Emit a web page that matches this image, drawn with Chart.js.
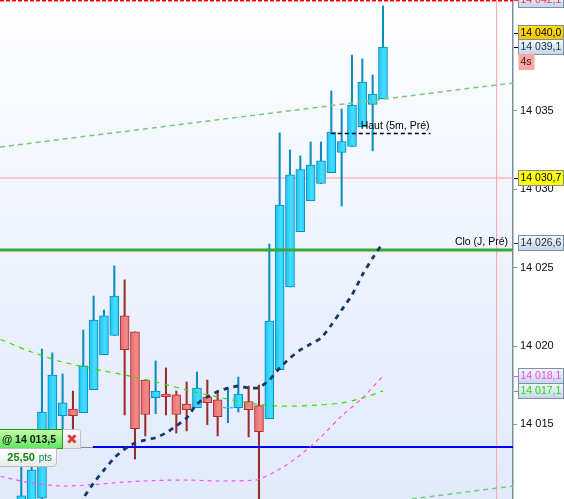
<!DOCTYPE html>
<html>
<head>
<meta charset="utf-8">
<title>Chart</title>
<script src="https://cdn.jsdelivr.net/npm/chart.js@4"></script>
<style>
html, body { margin: 0; padding: 0; background: #fff; overflow: hidden; }
#wrap { position: relative; width: 564px; height: 499px; font-family: "Liberation Sans", Arial, sans-serif; }
#order {
    position: absolute; left: -2px; top: 429px; width: 64px; height: 18px; line-height: 18px;
    background: linear-gradient(#c4fba6, #62e662); border: 1px solid #1d9a1d; border-left: 0;
    font-size: 10.5px; font-weight: bold; color: #0a1a0a; text-align: right; padding-right: 0; white-space: nowrap;
}
#order span { margin-right: 6px; }
#close {
    position: absolute; left: 63px; top: 429px; width: 17px; height: 18px; line-height: 18px;
    background: linear-gradient(#fbfbfb, #e4e4e4); border: 1px solid #c2c2c2; border-left: 0;
    border-radius: 0 3px 0 0; color: #d64545; font-size: 14px; text-align: center;
}
#pts {
    position: absolute; left: -2px; top: 448px; width: 57px; height: 17px; line-height: 17px;
    background: linear-gradient(#fdfdfd, #ececec); border: 1px solid #bdbdbd; border-radius: 0 0 4px 0;
    color: #108a10; font-size: 11px; font-weight: bold; text-align: right; white-space: nowrap;
}
#pts small { font-size: 10px; font-weight: normal; color: #128a50; margin: 0 4px 0 1px; }
#stub { position: absolute; left: 81px; top: 447px; width: 12px; height: 1px; background: #8a8a8a; }
</style>
</head>
<body>
<div id="wrap">
    <canvas id="priceChart"></canvas>
    <div id="stub"></div>
    <div id="order"><span>@ 14 013,5</span></div>
    <div id="close">&#10006;</div>
    <div id="pts">25,50<small> pts</small></div>
</div>
<script>
// Candles
const candleIndex = [0, 1, 2, 3, 4, 5, 6, 7, 8, 9, 10, 11, 12, 13, 14, 15, 16, 17,
    18, 19, 20, 21, 22, 23, 24, 25, 26, 27, 28, 29, 30, 31, 32, 33, 34, 35];
const opens = [14009.54, 14009.54, 14010.30, 14014.00, 14015.56, 14015.98, 14015.75, 14017.22, 14019.45,
    14020.67, 14021.92, 14020.90, 14017.83, 14016.71, 14016.94, 14016.88, 14016.30, 14016.07,
    14016.75, 14016.56, 14016.03, 14016.07, 14016.46, 14016.20, 14015.37, 14018.50, 14023.77,
    14027.30, 14029.28, 14030.37, 14031.07, 14032.35, 14032.73, 14033.98, 14035.41, 14035.77];
const closes = [14010.45, 14012.09, 14015.79, 14018.15, 14016.37, 14015.56, 14018.73, 14021.66, 14021.92,
    14023.19, 14019.77, 14014.73, 14015.63, 14017.13, 14016.77, 14015.63, 14015.94, 14017.32,
    14016.39, 14015.50, 14016.11, 14016.94, 14015.94, 14014.54, 14021.60, 14029.00, 14030.92,
    14031.26, 14031.55, 14031.81, 14033.66, 14033.05, 14035.38, 14036.85, 14036.08, 14039.08];
const highs = [14012.28, 14013.05, 14019.81, 14019.56, 14018.22, 14017.13, 14021.02, 14023.19, 14022.30,
    14025.11, 14024.22, 14020.90, 14017.83, 14019.05, 14018.60, 14017.13, 14017.71, 14018.34,
    14017.83, 14017.13, 14017.32, 14018.02, 14017.45, 14017.51, 14026.51, 14033.60, 14032.51,
    14032.13, 14033.02, 14033.02, 14036.28, 14035.13, 14038.57, 14038.32, 14037.30, 14041.70];
const lows = [14009.22, 14009.30, 14009.86, 14013.69, 14014.52, 14014.52, 14015.75, 14017.22, 14019.45,
    14020.67, 14015.60, 14012.79, 14014.26, 14015.69, 14015.60, 14014.45, 14014.58, 14016.07,
    14014.99, 14014.26, 14015.11, 14015.79, 14014.20, 14009.86, 14015.37, 14018.50, 14023.77,
    14027.30, 14029.28, 14030.37, 14031.07, 14028.94, 14032.73, 14033.98, 14032.45, 14035.77];

// Moving averages
const navyIndex = [5, 6, 7, 8, 9, 10, 11, 12, 13, 14, 15, 16, 17, 18, 19, 20, 21, 22, 23, 24, 25,
    26, 27, 28, 29, 30, 31, 32, 33, 34, 35];
const navyValues = [14009.41, 14010.30, 14011.26, 14012.09, 14012.86, 14013.43, 14013.81, 14014.00,
    14014.15, 14014.45, 14014.90, 14015.41, 14016.30, 14016.75, 14017.10, 14017.32, 14017.45, 14017.32,
    14017.35, 14017.83, 14018.60, 14019.24, 14019.75, 14020.13, 14020.51, 14021.34, 14022.30, 14023.26,
    14024.53, 14025.62, 14026.58];
const greenIndex = [-2, 1, 4, 7, 10, 13, 16, 19, 22, 25, 28, 31, 33, 35];
const greenValues = [14020.42, 14019.62, 14018.98, 14018.54, 14018.15, 14017.71, 14017.20, 14016.75,
    14016.37, 14016.17, 14016.21, 14016.37, 14016.68, 14017.13];
const pinkIndex = [-2, 1, 4, 7, 10, 13, 16, 19, 22, 23, 25, 27, 29, 31, 33, 35];
const pinkValues = [14011.68, 14011.26, 14011.07, 14011.16, 14011.32, 14011.42, 14011.45, 14011.39,
    14011.42, 14011.50, 14012.15, 14013.05, 14014.20, 14015.54, 14016.68, 14018.09];
const upperTrendIndex = [-2.06, 47.58];
const upperTrendValues = [14032.70, 14036.79];
const lowerTrendIndex = [37.78, 47.58];
const lowerTrendValues = [14010.24, 14011.07];

// Axis
const xMin = -2.06;
const xMax = 47.58;
const yMin = 14010.24;
const yMax = 14042.08;
const tickValues = [14015, 14020, 14025, 14030, 14035];

// Horizontal levels
const redLevel = 14042.05;
const lastLevel = 14030.72;
const closeLevel = 14026.13;
const orderLevel = 14013.56;
const highLevel = 14033.56;
const highLevelIndex = [29.95, 39.6];
const cursorIndex = 46.0;

// Price tags on the axis
const tagValues = [14042.1, 14040.0, 14039.1, 14030.7, 14026.6, 14018.1, 14017.1];

const pts = (xs, ys) => xs.map((x, i) => ({ x: x, y: ys[i] }));
const level = (y, from, to) => [{ x: from === undefined ? xMin : from, y: y }, { x: to === undefined ? xMax : to, y: y }];
const isUp = (i) => closes[i] >= opens[i];

function bodyFill(c) {
    const up = c.raw ? isUp(c.dataIndex) : true;
    const flat = up ? '#33d0fa' : '#ec7878';
    if (!c.raw) return flat;
    const px = c.chart.scales.x.getPixelForValue(c.raw.x);
    if (!Number.isFinite(px)) return flat;
    const g = c.chart.ctx.createLinearGradient(px - 4, 0, px + 4, 0);
    g.addColorStop(0, up ? '#1fc4f6' : '#e96a6a');
    g.addColorStop(0.6, up ? '#45deff' : '#f28a8a');
    g.addColorStop(1, up ? '#30d0fa' : '#ec7878');
    return g;
}

function lineSet(data, color, width, dash, order, tension) {
    return {
        type: 'line',
        data: data,
        borderColor: color,
        borderWidth: width,
        borderDash: dash,
        pointRadius: 0,
        tension: tension || 0,
        order: order,
    };
}

const wickColors = candleIndex.map((i) => (isUp(i) ? '#0a8dbf' : '#9a2c2c'));
const edgeColors = candleIndex.map((i) => (isUp(i) ? '#0a8dbf' : '#a83030'));

const backdrop = {
    id: 'backdrop',
    beforeDraw(chart) {
        const { ctx, chartArea: a } = chart;
        const g = ctx.createLinearGradient(0, a.top, 0, a.bottom);
        g.addColorStop(0, '#ffffff');
        g.addColorStop(0.3, '#f4f7fe');
        g.addColorStop(1, '#e1e9fb');
        ctx.save();
        ctx.fillStyle = g;
        ctx.fillRect(a.left, a.top, a.right - a.left, a.bottom - a.top);
        ctx.restore();
    },
};

const tagStyles = [
    { text: '#ff2b4a', top: '#eef4fc', bottom: '#c6d6ec', mark: '#ff2b4a' },
    { text: '#000000', top: '#ffdc10', bottom: '#f5c400', mark: '#000000' },
    { text: '#1a2a3a', top: '#f2f7fd', bottom: '#c6d6ec', mark: '#000000' },
    { text: '#000000', top: '#ffff00', bottom: '#ffff00', mark: '#000000' },
    { text: '#1a2a3a', top: '#f2f7fd', bottom: '#c6d6ec', mark: '#1a3a5a' },
    { text: '#ff44ee', top: '#f2f7fd', bottom: '#c6d6ec', mark: '#ff44ee' },
    { text: '#22dd00', top: '#f2f7fd', bottom: '#c6d6ec', mark: '#22dd00' },
];

const priceTags = {
    id: 'priceTags',
    afterDraw(chart) {
        const { ctx, scales } = chart;
        const y = scales.y;
        const x = scales.x;
        ctx.save();
        ctx.font = '10.5px "Liberation Sans", Arial, sans-serif';
        ctx.textBaseline = 'middle';

        // levels' captions
        ctx.fillStyle = '#000';
        ctx.textAlign = 'right';
        ctx.fillText('Haut (5m, Pré)', x.getPixelForValue(highLevelIndex[1]) - 1, y.getPixelForValue(highLevel) - 7.5);
        ctx.fillText('Clo (J, Pré)', 508, y.getPixelForValue(tagValues[4]));

        // boxes on the axis
        ctx.textAlign = 'left';
        tagValues.forEach((v, i) => {
            const st = tagStyles[i];
            const py = Math.round(y.getPixelForValue(v));
            const g = ctx.createLinearGradient(0, py - 7, 0, py + 7);
            g.addColorStop(0, st.top);
            g.addColorStop(1, st.bottom);
            ctx.fillStyle = g;
            ctx.fillRect(518.5, py - 7.5, 45, 15);
            ctx.strokeStyle = '#7f90a0';
            ctx.lineWidth = 1;
            ctx.strokeRect(518.5, py - 7.5, 45, 15);
            ctx.strokeStyle = st.mark;
            ctx.beginPath();
            ctx.moveTo(514, py + 0.5);
            ctx.lineTo(518, py + 0.5);
            ctx.stroke();
            ctx.fillStyle = st.text;
            const s = v.toFixed(1).replace('.', ',').replace(/^(\d{2})(\d{3})/, '$1 $2');
            ctx.fillText(s, 520.5, py + 0.5);
        });

        // seconds counter
        ctx.fillStyle = '#f8a6a6';
        ctx.fillRect(518.5, 54, 16, 16);
        ctx.fillStyle = '#3a1010';
        ctx.fillText('4s', 520.5, 62.5);
        ctx.restore();
    },
};

new Chart(document.getElementById('priceChart'), {
    type: 'bar',
    data: {
        datasets: [
            lineSet(level(lastLevel), '#ff9c9c', 1, [], 9),
            lineSet([{ x: cursorIndex, y: yMin }, { x: cursorIndex, y: yMax }], '#f5a3a8', 1, [], 9),
            {
                data: candleIndex.map((x, i) => ({ x: x, y: [lows[i], highs[i]] })),
                backgroundColor: wickColors,
                borderWidth: 0,
                barThickness: 1.4,
                grouped: false,
                order: 8,
            },
            {
                data: candleIndex.map((x, i) => ({ x: x, y: [opens[i], closes[i]] })),
                backgroundColor: bodyFill,
                borderColor: edgeColors,
                borderWidth: 1,
                borderSkipped: false,
                barThickness: 9,
                grouped: false,
                order: 7,
            },
            lineSet(level(closeLevel), '#38a838', 3, [], 6),
            lineSet(level(orderLevel, 6.93), '#0000ee', 2, [], 6),
            lineSet(level(redLevel), '#ff0000', 2, [4, 2], 5),
            lineSet(level(highLevel, highLevelIndex[0], highLevelIndex[1]), '#000000', 1.5, [4, 3], 5),
            lineSet(pts(upperTrendIndex, upperTrendValues), '#74cc78', 1.5, [5, 4], 4),
            lineSet(pts(lowerTrendIndex, lowerTrendValues), '#74cc78', 1.5, [5, 4], 4),
            lineSet(pts(pinkIndex, pinkValues), '#ff55ee', 1.2, [4, 4], 3, 0.3),
            lineSet(pts(greenIndex, greenValues), '#33e000', 1.2, [5, 5], 2, 0.3),
            lineSet(pts(navyIndex, navyValues), '#143a66', 2.8, [5, 5], 1, 0.2),
        ],
    },
    options: {
        responsive: true,
        maintainAspectRatio: false,
        animation: false,
        layout: { padding: 0, autoPadding: false },
        plugins: {
            legend: { display: false },
            tooltip: { enabled: false },
        },
        scales: {
            x: {
                type: 'linear',
                offset: false,
                min: xMin,
                max: xMax,
                display: false,
                grid: { display: false },
            },
            y: {
                position: 'right',
                min: yMin,
                max: yMax,
                beginAtZero: false,
                afterBuildTicks(scale) {
                    scale.ticks = tickValues.map((v) => ({ value: v }));
                },
                afterFit(scale) {
                    scale.width = 51;
                    scale.paddingTop = 0;
                    scale.paddingBottom = 0;
                },
                border: { color: '#7c8c9a', width: 1.5 },
                grid: { drawOnChartArea: false, drawTicks: true, tickLength: 4, color: '#7c8c9a' },
                ticks: {
                    autoSkip: false,
                    padding: 3,
                    color: '#0a0a14',
                    font: { family: '"Liberation Sans", Arial, sans-serif', size: 11 },
                    callback(value) {
                        return String(value).replace(/^(\d{2})(\d{3})/, '$1 $2');
                    },
                },
            },
        },
    },
    plugins: [backdrop, priceTags],
});
</script>
</body>
</html>
